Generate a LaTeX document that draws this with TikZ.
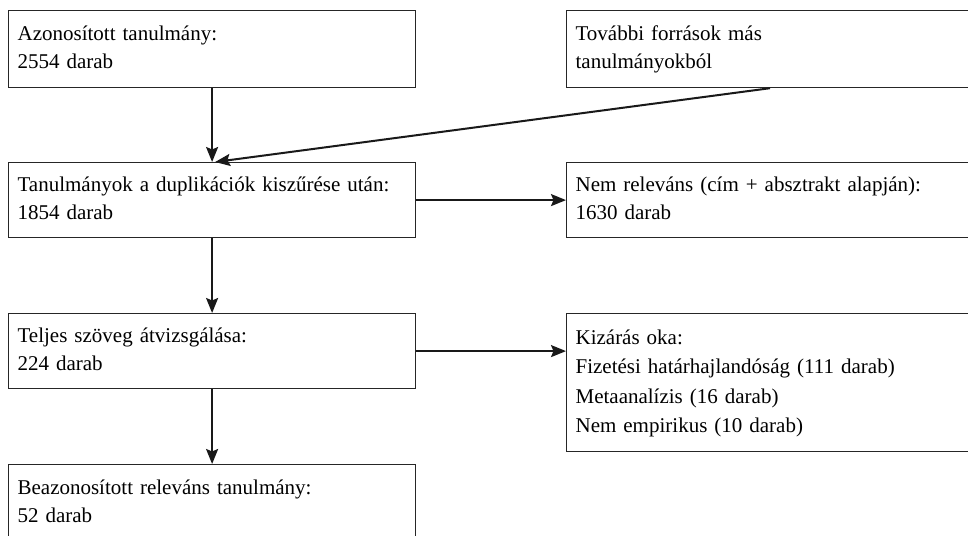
\documentclass[tikz,border=0pt]{standalone}
\usepackage{fontspec}
\setmainfont{Liberation Serif}
\usetikzlibrary{arrows.meta,calc}
\tikzset{
  box/.style={draw=black!85, line width=1.2bp, anchor=north west, align=left,
    text width=389bp, inner xsep=9bp, inner ysep=0pt, minimum width=407bp,
    font=\fontsize{21bp}{28bp}\selectfont, text=black},
  arr/.style={line width=2bp, draw=black!90, -{Stealth[length=15bp,width=12bp,inset=2.5bp]}}
}
\begin{document}
\begin{tikzpicture}[x=1bp,y=-1bp]
\path[use as bounding box] (0,0) rectangle (968,536);
\clip (0,0) rectangle (968,536);
\node[box, minimum height=77bp] (A) at (8,10) {\strut Azonosított tanulmány:\\ 2554 darab\strut};
\node[box, minimum height=77bp] (B) at (566,10) {\strut További források más\\ tanulmányokból\strut};
\node[box, minimum height=75bp] (C) at (8,162) {\strut Tanulmányok a duplikációk kiszűrése után:\\ 1854 darab\strut};
\node[box, minimum height=75bp] (D) at (566,162) {\strut Nem releváns (cím + absztrakt alapján):\\ 1630 darab\strut};
\node[box, minimum height=75bp] (E) at (8,313) {\strut Teljes szöveg átvizsgálása:\\ 224 darab\strut};
\node[box, minimum height=138bp, font=\fontsize{21bp}{29.3bp}\selectfont] (F) at (566,313) {\strut Kizárás oka:\\ Fizetési határhajlandóság (111 darab)\\ Metaanalízis (16 darab)\\ Nem empirikus (10 darab)\strut};
\node[box, minimum height=77bp] (G) at (8,464) {\strut Beazonosított releváns tanulmány:\\ 52 darab\strut};
\coordinate (Bout) at ($(B.south west)+(204,0)$);
\draw[arr] (A.south) -- (C.north);
\draw[arr] (Bout) -- ($(C.north)+(3,0)$);
\draw[arr] (C.east) -- (D.west);
\draw[arr] (C.south) -- (E.north);
\draw[arr] (E.east) -- (E.east -| F.west);
\draw[arr] (E.south) -- (G.north);
\end{tikzpicture}
\end{document}
